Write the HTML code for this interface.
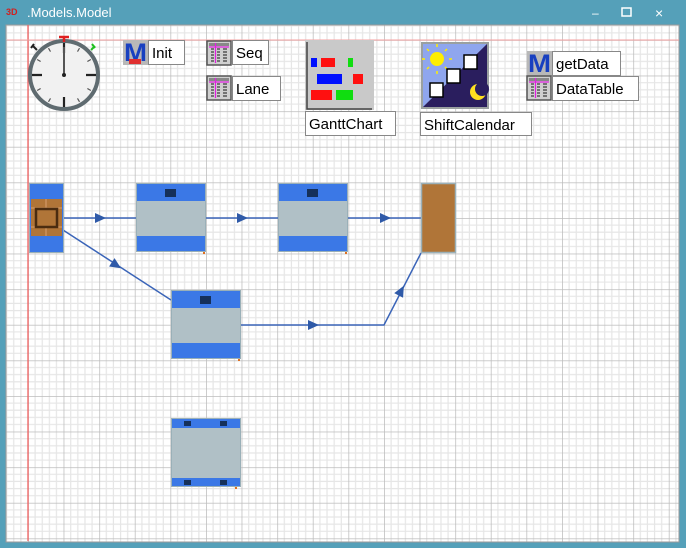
<!DOCTYPE html>
<html><head><meta charset="utf-8"><style>
html,body{margin:0;padding:0;width:686px;height:548px;overflow:hidden;background:#55a0b9;}
svg{display:block;font-family:"Liberation Sans",sans-serif;}
</style></head><body>
<svg width="686" height="548" viewBox="0 0 686 548" xmlns="http://www.w3.org/2000/svg">
<defs>
<pattern id="g" patternUnits="userSpaceOnUse" x="28" y="40" width="35.6" height="35.6">
<rect width="35.6" height="35.6" fill="#fff"/>
<path d="M7.12 0V35.6M14.24 0V35.6M21.36 0V35.6M28.48 0V35.6M0 7.12H35.6M0 14.24H35.6M0 21.36H35.6M0 28.48H35.6" stroke="#e6e6e6" stroke-width="1.2"/>
<path d="M0 0V35.6M0 0H35.6" stroke="#bcbcbc" stroke-width="1.5"/>
</pattern>
<g id="tbl"><rect x="0" y="0" width="24" height="24" fill="#cfcfcf" stroke="#555" stroke-width="1.5"/>
<rect x="2" y="2" width="20" height="3" fill="#888"/>
<path d="M4 8h3M4 11h3M4 14h3M4 17h3M4 20h3M10 8h3M10 11h3M10 14h3M10 17h3M10 20h3M16 8h4M16 11h4M16 14h4M16 17h4M16 20h4" stroke="#555" stroke-width="1.5"/>
<path d="M8.5 2V22M2 6H22" stroke="#e020e0" stroke-width="1.2"/></g>
</defs>
<rect x="0" y="0" width="686" height="548" fill="#55a0b9"/>
<text x="27" y="17" font-size="13" fill="#fff">.Models.Model</text>
<text x="6" y="15" font-size="9" font-weight="bold" fill="#d02020">3D</text>
<text x="592" y="17" font-size="12" fill="#fff">–</text>
<rect x="622" y="8" width="9" height="8" fill="none" stroke="#fff" stroke-width="1.5"/>
<text x="655" y="18" font-size="14" fill="#fff">×</text>
<rect x="6" y="25" width="673" height="517" fill="url(#g)" stroke="#9a9a9a" stroke-width="1"/>
<path d="M28 25V541" stroke="#f06060" stroke-width="1.3"/>
<path d="M7 40H679" stroke="#f5a0a0" stroke-width="1"/>
<!-- clock -->
<circle cx="64" cy="75" r="34" fill="#f1f1f1" stroke="#5f6b70" stroke-width="4"/>
<g stroke="#555" stroke-width="1.2" transform="translate(64 75)">
<path d="M0 -31V-27" transform="rotate(30)"/><path d="M0 -31V-27" transform="rotate(60)"/>
<path d="M0 -31V-27" transform="rotate(120)"/><path d="M0 -31V-27" transform="rotate(150)"/>
<path d="M0 -31V-27" transform="rotate(210)"/><path d="M0 -31V-27" transform="rotate(240)"/>
<path d="M0 -31V-27" transform="rotate(300)"/><path d="M0 -31V-27" transform="rotate(330)"/>
</g>
<path d="M64 43V53M64 97V107M32 75H42M86 75H96" stroke="#222" stroke-width="2.2"/>
<path d="M64 75V47" stroke="#555" stroke-width="2"/>
<circle cx="64" cy="75" r="2" fill="#222"/>
<path d="M59 37H69M64 37V42" stroke="#e02020" stroke-width="2.5"/>
<path d="M37 50l-4-4M34 44l-3 4" stroke="#222" stroke-width="2"/>
<path d="M91 50l4-4M92 44l3 4" stroke="#20c020" stroke-width="2"/>
<!-- Init -->
<rect x="123" y="40" width="25" height="25" fill="#b8b8b8"/>
<text x="124" y="61" font-size="25" font-weight="bold" fill="#1840c0" textLength="23" lengthAdjust="spacingAndGlyphs">M</text>
<rect x="129" y="59" width="12" height="5" fill="#e03030"/>
<rect x="148.5" y="40.5" width="36" height="24" fill="#fff" stroke="#888"/>
<text x="152" y="58" font-size="15">Init</text>
<use href="#tbl" x="207" y="41"/>
<rect x="232.5" y="40.5" width="36" height="24" fill="#fff" stroke="#888"/>
<text x="236" y="58" font-size="15">Seq</text>
<use href="#tbl" x="207" y="76"/>
<rect x="232.5" y="76.5" width="48" height="24" fill="#fff" stroke="#888"/>
<text x="236" y="94" font-size="15">Lane</text>
<!-- Gantt -->
<rect x="305" y="40" width="69" height="70" fill="#c9c9c9"/>
<path d="M307 42V109H372" stroke="#444" stroke-width="1.5" fill="none"/>
<rect x="311" y="58" width="6" height="9" fill="#0010ff"/>
<rect x="321" y="58" width="14" height="9" fill="#ff1010"/>
<rect x="348" y="58" width="5" height="9" fill="#10dd10"/>
<rect x="317" y="74" width="25" height="10" fill="#0010ff"/>
<rect x="353" y="74" width="10" height="10" fill="#ff1010"/>
<rect x="311" y="90" width="21" height="10" fill="#ff1010"/>
<rect x="336" y="90" width="17" height="10" fill="#10dd10"/>
<rect x="305.5" y="111.5" width="90" height="24" fill="#fff" stroke="#888"/>
<text x="309" y="129" font-size="15">GanttChart</text>
<!-- ShiftCalendar -->
<rect x="421" y="42" width="68" height="67" fill="#9aa0a0"/>
<path d="M423 44H487L423 107z" fill="#8fa6ee"/>
<path d="M487 44V107H423z" fill="#2a1e5e"/>
<circle cx="437" cy="59" r="7" fill="#ffee00"/>
<path d="M437 47v-3M437 71v3M425 59h-3M449 59h3M429 51l-2-2M445 51l2-2M429 67l-2 2M445 67l2 2" stroke="#ffee00" stroke-width="1.5"/>
<rect x="430" y="83" width="13" height="14" fill="#fff" stroke="#000" stroke-width="1.5"/>
<rect x="447" y="69" width="13" height="14" fill="#fff" stroke="#000" stroke-width="1.5"/>
<rect x="464" y="55" width="13" height="14" fill="#fff" stroke="#000" stroke-width="1.5"/>
<circle cx="478" cy="92" r="8" fill="#ffe020"/><circle cx="482" cy="89" r="7" fill="#2a1e5e"/>
<rect x="420.5" y="112.5" width="111" height="23" fill="#fff" stroke="#888"/>
<text x="424" y="130" font-size="15">ShiftCalendar</text>
<!-- getData / DataTable -->
<rect x="527" y="51" width="25" height="25" fill="#b8b8b8"/>
<text x="528" y="72" font-size="25" font-weight="bold" fill="#1840c0" textLength="23" lengthAdjust="spacingAndGlyphs">M</text>
<rect x="552.5" y="51.5" width="68" height="24" fill="#fff" stroke="#888"/>
<text x="556" y="69" font-size="15">getData</text>
<use href="#tbl" x="527" y="76"/>
<rect x="552.5" y="76.5" width="86" height="24" fill="#fff" stroke="#888"/>
<text x="556" y="94" font-size="15">DataTable</text>
<!-- connectors -->
<g stroke="#3a64b8" stroke-width="1.5" fill="none">
<path d="M64 218H136"/><path d="M205 218H278"/><path d="M348 218H421"/>
<path d="M63 230L171 300"/>
<path d="M241 325H384L421 253"/>
</g>
<g fill="#2f5aa8">
<path d="M95 213L106 218L95 223z"/><path d="M237 213L248 218L237 223z"/><path d="M380 213L391 218L380 223z"/>
<path d="M308 320L319 325L308 330z"/>
<path transform="translate(116 265) rotate(33)" d="M-5 -5L6 0L-5 5z"/>
<path transform="translate(401 291) rotate(-62)" d="M-5 -5L6 0L-5 5z"/>
</g>
<!-- source -->
<rect x="29.5" y="183.5" width="34" height="69" fill="#3b78e6" stroke="#9ab0b8"/>
<rect x="31" y="199" width="31" height="37" fill="#b07538"/>
<path d="M31 208H62M31 227H62M46 199V236" stroke="#d8a070" stroke-width="1"/>
<rect x="36" y="209" width="21" height="18" fill="#b07538" stroke="#4a2c10" stroke-width="2.5"/>
<!-- stations -->
<g id="st">
<rect x="136.5" y="183.5" width="69" height="68" fill="#b0c0c6" stroke="#9ab0b8"/>
<rect x="137" y="184" width="68" height="17" fill="#3b78e6"/>
<rect x="137" y="236" width="68" height="15" fill="#3b78e6"/>
<rect x="165" y="189" width="11" height="8" fill="#15305a"/>
<rect x="203" y="252" width="2" height="2" fill="#e07020"/>
</g>
<use href="#st" x="142" y="0"/>
<use href="#st" x="35" y="107"/>
<!-- drain -->
<rect x="421.5" y="183.5" width="34" height="69" fill="#b07538" stroke="#9ab0b8" stroke-width="1.5"/>
<!-- bottom station -->
<rect x="171.5" y="418.5" width="69" height="68" fill="#b0c0c6" stroke="#9ab0b8"/>
<rect x="172" y="419" width="68" height="9" fill="#3b78e6"/>
<rect x="172" y="478" width="68" height="8" fill="#3b78e6"/>
<rect x="184" y="421" width="7" height="5" fill="#15305a"/><rect x="220" y="421" width="7" height="5" fill="#15305a"/>
<rect x="184" y="480" width="7" height="5" fill="#15305a"/><rect x="220" y="480" width="7" height="5" fill="#15305a"/>
<rect x="235" y="487" width="2" height="2" fill="#e07020"/>
</svg>
</body></html>
